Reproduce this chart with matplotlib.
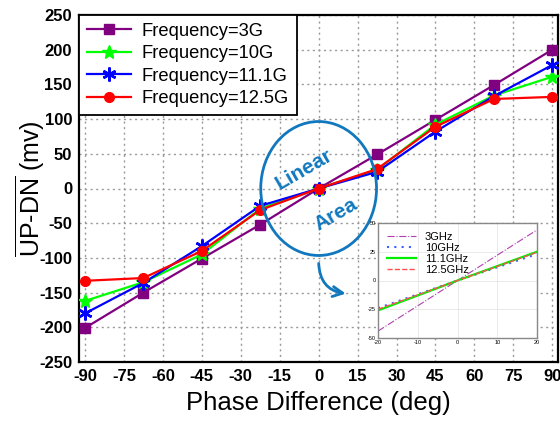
import matplotlib
matplotlib.use("Agg")
import matplotlib.pyplot as plt
from matplotlib.patches import Ellipse

plt.rcParams['font.family'] = ['Liberation Sans', 'DejaVu Sans']
plt.rcParams['mathtext.fontset'] = 'custom'
plt.rcParams['mathtext.rm'] = 'Liberation Sans'
plt.rcParams['mathtext.it'] = 'Liberation Sans:italic'
plt.rcParams['mathtext.bf'] = 'Liberation Sans:bold'
plt.rcParams['axes.unicode_minus'] = False

# ---- data ----
phase = [-90, -67.5, -45, -22.5, 0, 22.5, 45, 67.5, 90]
f3g = [-201, -150, -101, -52, 0, 49, 99, 149, 200]
f10g = [-162, -135, -95, -29, 0, 27, 92, 134, 161]
f11g = [-180, -136, -83, -25, 0, 24, 82, 133, 178]
f12g = [-133, -129, -90, -31, 0, 28, 89, 129, 132]
labels = ['Frequency=3G', 'Frequency=10G', 'Frequency=11.1G', 'Frequency=12.5G']

xticks = [-90, -75, -60, -45, -30, -15, 0, 15, 30, 45, 60, 75, 90]
yticks = [-250, -200, -150, -100, -50, 0, 50, 100, 150, 200, 250]

inset_x = [-20, 0, 20]
in3 = [-44, 0, 44]
in10 = [-24, 0, 23]
in11 = [-26, 0, 25]
in12 = [-25, 0, 24.5]
inset_labels = ['3GHz', '10GHz', '11.1GHz', '12.5GHz']
inset_xticks = [-20, -10, 0, 10, 20]
inset_yticks = [-50, -25, 0, 25, 50]

fig = plt.figure(figsize=(5.6, 4.21), dpi=100)
ax = fig.add_axes([79/560, 1-362/421, (558-79)/560, (362-15)/421])

purple = '#800080'
ax.plot(phase, f3g, color=purple, lw=1.6, marker='s', ms=7, label=labels[0], zorder=3)
ax.plot(phase, f10g, color='#00FF00', lw=1.6, marker='*', ms=10, label=labels[1], zorder=4)
ax.plot(phase, f11g, color='#0000FF', lw=1.6, marker=(6, 2, 0), ms=10, mew=1.8, label=labels[2], zorder=5)
ax.plot(phase, f12g, color='#FF0000', lw=1.6, marker='o', ms=7, label=labels[3], zorder=6)

ax.set_xlim(-92.3, 92.2)
ax.set_ylim(-250, 250)
ax.set_xticks(xticks)
ax.set_yticks(yticks)
ax.tick_params(length=0, labelsize=12, pad=5)
for t in ax.get_xticklabels() + ax.get_yticklabels():
    t.set_fontweight('bold')
ax.grid(True, linestyle=(0, (1.5, 2.5)), color='#999999', lw=1.0)
for s in ax.spines.values():
    s.set_linewidth(1.6)

ax.set_xlabel('Phase Difference (deg)', fontsize=18.5, labelpad=5)
ax.set_ylabel(r'$\overline{\mathrm{UP\text{-}DN}}$ (mv)', fontsize=18, labelpad=-6)

leg = ax.legend(loc='upper left', bbox_to_anchor=(0, 1), borderaxespad=0,
                fontsize=13.2, fancybox=False, edgecolor='black', framealpha=1,
                handlelength=2.4, handletextpad=0.6, labelspacing=0.3, borderpad=0.42)
leg.get_frame().set_linewidth(1.3)

blue_ann = '#1278BE'
ell = Ellipse((0, 0), 44.6, 193, angle=0, fill=False, edgecolor=blue_ann, lw=2, zorder=7)
ax.add_patch(ell)
ax.text(-5.5, 27, 'Linear', color=blue_ann, fontsize=15, fontweight='bold',
        rotation=30, ha='center', va='center', zorder=8)
ax.text(6.5, -38, 'Area', color=blue_ann, fontsize=15, fontweight='bold',
        rotation=30, ha='center', va='center', zorder=8)
ax.annotate('', xy=(11.5, -152), xytext=(0, -104),
            arrowprops=dict(arrowstyle='->', color=blue_ann, lw=2,
                            connectionstyle='arc3,rad=0.45', mutation_scale=18),
            zorder=8)

# inset
ai = fig.add_axes([378/560, 1-338/421, 159/560, 115/421])
ai.plot(inset_x, in3, color='#B040B0', lw=0.8, ls='-.', label=inset_labels[0])
ai.plot(inset_x, in10, color='#4060FF', lw=1.5, ls=(0, (1, 2.5)), label=inset_labels[1])
ai.plot(inset_x, in11, color='#00EE00', lw=1.6, ls='-', label=inset_labels[2])
ai.plot(inset_x, in12, color='#FF5050', lw=1.0, ls='--', label=inset_labels[3])
ai.set_xlim(-20, 20)
ai.set_ylim(-50, 50)
ai.set_xticks(inset_xticks)
ai.set_yticks(inset_yticks)
ai.tick_params(length=0, labelsize=4, pad=1.5)
ai.grid(True, color='#E6E6E6', lw=0.6)
for s in ai.spines.values():
    s.set_color('#888888')
    s.set_linewidth(1.0)
ai.legend(loc='upper left', frameon=False, fontsize=8, handlelength=2.6,
          handletextpad=0.8, labelspacing=0.1, borderpad=0.3)

fig.savefig('out.png', dpi=100)
